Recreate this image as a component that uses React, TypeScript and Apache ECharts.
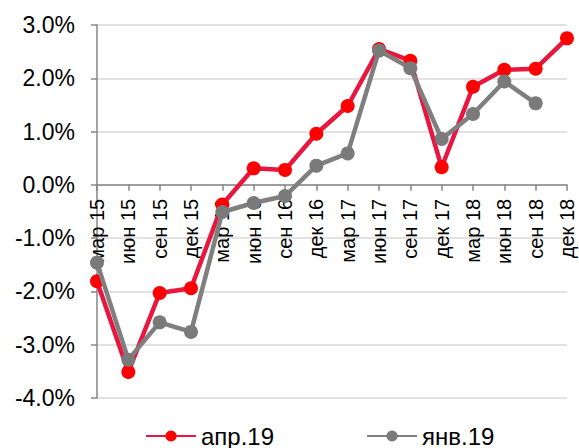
import React, { useEffect, useRef } from "react";
import * as echarts from "echarts";

const categories = [
  "мар 15", "июн 15", "сен 15", "дек 15",
  "мар 16", "июн 16", "сен 16", "дек 16",
  "мар 17", "июн 17", "сен 17", "дек 17",
  "мар 18", "июн 18", "сен 18", "дек 18",
];

const aprSeries = [
  -1.81, -3.51, -2.03, -1.94,
  -0.37, 0.31, 0.28, 0.96,
  1.48, 2.55, 2.33, 0.33,
  1.84, 2.16, 2.18, 2.75,
];

const janSeries: (number | null)[] = [
  -1.46, -3.28, -2.58, -2.76,
  -0.51, -0.34, -0.21, 0.36,
  0.59, 2.52, 2.19, 0.86,
  1.33, 1.94, 1.53, null,
];

const yTicks = { min: -4, max: 3, interval: 1 };

const W = 579;
const H = 448;
const GRID = { left: 97, right: 12, top: 25, bottom: 50 };

export default function App() {
  const ref = useRef<HTMLDivElement>(null);
  useEffect(() => {
    if (!ref.current) return;
    document.body.style.margin = "0";
    const chart = echarts.init(ref.current, null, { renderer: "svg" });
    const font = "'Liberation Sans', Arial, sans-serif";
    const gridH = H - GRID.top - GRID.bottom;
    const zeroOffset = -((0 - yTicks.min) / (yTicks.max - yTicks.min)) * gridH;
    chart.setOption({
      animation: false,
      backgroundColor: "#ffffff",
      grid: {
        ...GRID,
        containLabel: false,
        outerBoundsMode: "none",
      },
      legend: {
        top: 419,
        left: 140,
        itemWidth: 50,
        itemHeight: 14,
        itemGap: 92,
        textStyle: { fontFamily: font, fontSize: 24, color: "#000" },
        data: ["апр.19", "янв.19"],
      },
      xAxis: {
        type: "category",
        data: categories,
        boundaryGap: false,
        position: "bottom",
        offset: zeroOffset,
        axisLine: { onZero: false, lineStyle: { color: "#868686", width: 1.5 } },
        axisTick: { show: true, length: 6, lineStyle: { color: "#868686", width: 1.5 } },
        axisLabel: {
          rotate: 90,
          margin: 14,
          interval: 0,
          hideOverlap: false,
          fontFamily: "'Liberation Sans Narrow', 'Arial Narrow', 'Liberation Sans', sans-serif",
          fontSize: 20,
          color: "#000",
        },
        splitLine: { show: false },
      },
      yAxis: {
        type: "value",
        min: yTicks.min,
        max: yTicks.max,
        interval: yTicks.interval,
        axisLine: { show: true, onZero: false, lineStyle: { color: "#868686", width: 1.5 } },
        axisTick: { show: true, length: 6, lineStyle: { color: "#868686", width: 1.5 } },
        axisLabel: {
          margin: 22,
          fontFamily: font,
          fontSize: 23,
          color: "#000",
          formatter: (v: number) => v.toFixed(1) + "%",
        },
        splitLine: { show: true, lineStyle: { color: "#d9d9d9", width: 1.5 } },
      },
      series: [
        {
          name: "апр.19",
          type: "line",
          data: aprSeries,
          symbol: "circle",
          symbolSize: 14,
          lineStyle: { color: "#e8173f", width: 4.5 },
          itemStyle: { color: "#ff0000" },
          z: 2,
        },
        {
          name: "янв.19",
          type: "line",
          data: janSeries,
          symbol: "circle",
          symbolSize: 14,
          lineStyle: { color: "#7f7f7f", width: 4.5 },
          itemStyle: { color: "#7a7a7a" },
          z: 3,
        },
      ],
    });
    return () => chart.dispose();
  }, []);
  return <div ref={ref} style={{ width: W, height: H }} />;
}
